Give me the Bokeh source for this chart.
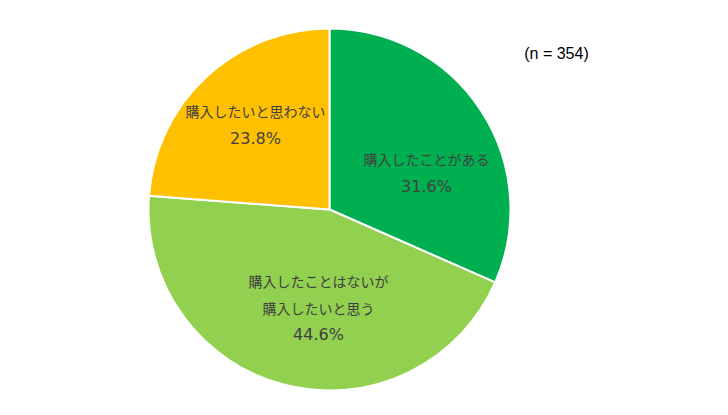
import math
from bokeh.plotting import figure
from bokeh.models import Range1d, ColumnDataSource
from bokeh.core.properties import value
from bokeh.embed import file_html
from bokeh.resources import INLINE

# ---- data ----
categories = ["購入したことがある", "購入したことはないが\n購入したいと思う", "購入したいと思わない"]
shares = [31.6, 44.6, 23.8]
colors = ["#00B050", "#92D050", "#FFC000"]
note = "(n = 354)"

# ---- layout ----
W, H = 712, 399
cx, cy, r = 329, 190, 181
label_offsets = [(97, 37), (-11, -98), (-74, 85)]  # px from center, +y up
line_gap = 27
text_color = "#404040"

total = sum(shares)
starts, ends = [], []
cum = 0.0
for v in shares:
    starts.append(math.pi / 2 - 2 * math.pi * cum / total)
    cum += v
    ends.append(math.pi / 2 - 2 * math.pi * cum / total)

p = figure(width=W, height=H, output_backend="svg", toolbar_location=None,
           x_range=Range1d(0, W), y_range=Range1d(0, H),
           x_axis_location=None, y_axis_location=None, min_border=0)
p.grid.visible = False
p.outline_line_color = None
p.background_fill_color = "white"

src = ColumnDataSource(dict(start=starts, end=ends, color=colors))
p.wedge(x=cx, y=cy, radius=r, start_angle="start", end_angle="end",
        direction="clock", fill_color="color", line_color="white",
        line_width=2, source=src)

nx, ny, nt = [], [], []
px, py, pt = [], [], []
for cat, v, (dx, dy) in zip(categories, shares, label_offsets):
    lines = cat.split("\n")
    n = len(lines) + 1
    top = cy + dy + (n - 1) * line_gap / 2
    for i, ln in enumerate(lines):
        nx.append(cx + dx)
        ny.append(top - i * line_gap)
        nt.append(ln)
    px.append(cx + dx)
    py.append(top - (n - 1) * line_gap)
    pt.append(f"{v:.1f}%")

p.text(x=nx, y=ny, text=nt, text_align="center", text_baseline="middle",
       text_font=value("Noto Sans CJK JP"), text_font_size="14px",
       text_color=text_color)
p.text(x=px, y=py, text=pt, text_align="center", text_baseline="middle",
       text_font=value("DejaVu Sans"), text_font_size="16px",
       text_color=text_color)
p.text(x=[556], y=[346], text=[note], text_align="center", text_baseline="middle",
       text_font=value("Liberation Sans"), text_font_size="16px",
       text_color="#000000")

open("out.html", "w").write(file_html(p, INLINE))
